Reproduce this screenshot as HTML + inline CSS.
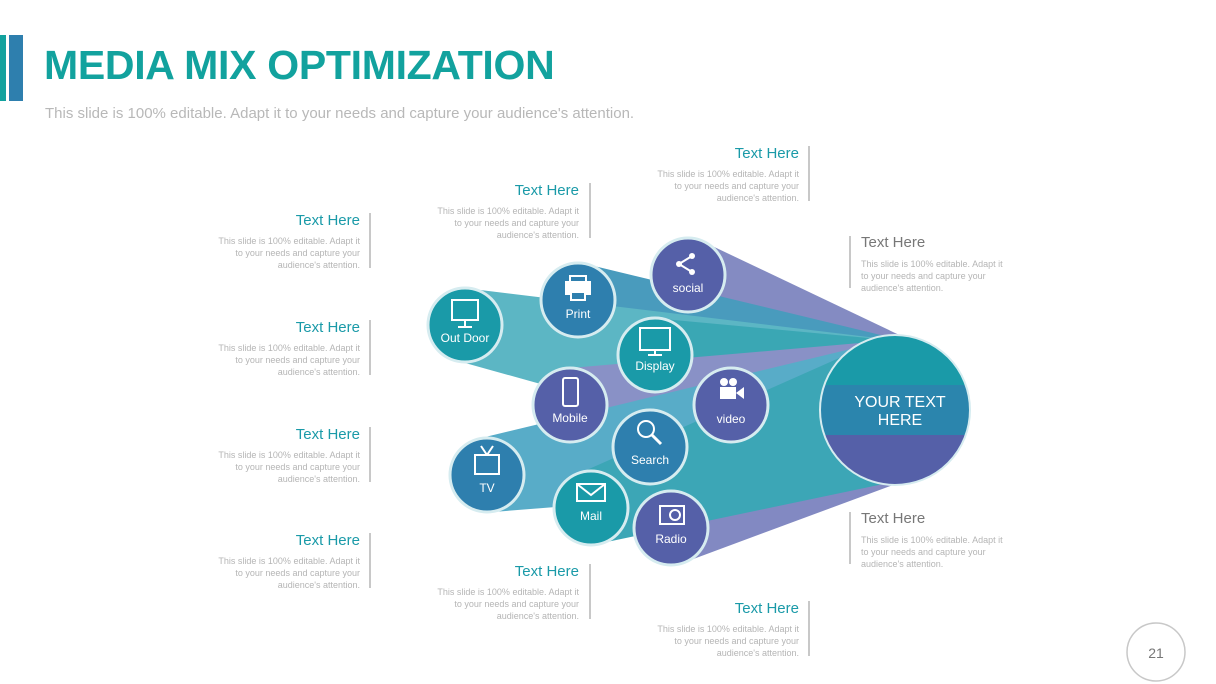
<!DOCTYPE html>
<html><head><meta charset="utf-8"><style>
body{margin:0;width:1216px;height:684px;background:#fff;overflow:hidden;font-family:"Liberation Sans",sans-serif;position:relative}
.t{position:absolute;font-size:15px;color:#1a9aa8;white-space:nowrap}
.b{position:absolute;font-size:9px;line-height:12px;color:#b5b5b5;width:150px}
.r{text-align:right}
.vl{position:absolute;width:2px;background:#c8c8c8}
</style></head><body>
<div style="position:absolute;left:0;top:35px;width:6px;height:66px;background:#12a29e"></div>
<div style="position:absolute;left:9px;top:35px;width:14px;height:66px;background:#2e7fae"></div>
<div style="position:absolute;left:44px;top:42px;font-size:41px;font-weight:bold;color:#12a29e;letter-spacing:-0.3px">MEDIA MIX OPTIMIZATION</div>
<div style="position:absolute;left:45px;top:105px;font-size:15px;color:#b8b8b8">This slide is 100% editable. Adapt it to your needs and capture your audience's attention.</div>

<svg width="1216" height="684" style="position:absolute;left:0;top:0">
<g opacity="0.92">
<polygon points="708,244 933,351 857,469 668,306" fill="#7a82bd"/>
<polygon points="590,265 918,344 872,476 566,335" fill="#3a93b8"/>
<polygon points="472,289 910,342 882,479 458,361" fill="#4fb0c0"/>
<polygon points="663,319 911,342 879,478 647,391" fill="#2aa0ae"/>
<polygon points="731,368 895,340 895,480 731,442" fill="#6a74b8"/>
<polygon points="570,368 895,340 895,480 570,442" fill="#8088c2"/>
<polygon points="645,410 885,341 905,479 656,484" fill="#3c8fbf"/>
<polygon points="481,438 884,341 906,479 493,512" fill="#4aa6c4"/>
<polygon points="654,495 862,348 928,472 688,561" fill="#7880bd"/>
<polygon points="580,473 873,343 917,477 602,543" fill="#2c9fb0"/>
</g>
<g stroke="#d6ecf0" stroke-width="3">
<circle cx="688" cy="275" r="37" fill="#5560a8"/>
<circle cx="578" cy="300" r="37" fill="#2e7fae"/>
<circle cx="465" cy="325" r="37" fill="#1a9aa8"/>
<circle cx="655" cy="355" r="37" fill="#1a9aa8"/>
<circle cx="731" cy="405" r="37" fill="#5560a8"/>
<circle cx="570" cy="405" r="37" fill="#5560a8"/>
<circle cx="650" cy="447" r="37" fill="#2e7fae"/>
<circle cx="487" cy="475" r="37" fill="#2e7fae"/>
<circle cx="671" cy="528" r="37" fill="#5560a8"/>
<circle cx="591" cy="508" r="37" fill="#1a9aa8"/>
</g>
<defs><clipPath id="cc"><circle cx="895" cy="410" r="75"/></clipPath></defs>
<g clip-path="url(#cc)">
<rect x="820" y="335" width="150" height="50" fill="#1a9aa8"/>
<rect x="820" y="385" width="150" height="50" fill="#2b85ad"/>
<rect x="820" y="435" width="150" height="50" fill="#5560a8"/>
</g>
<circle cx="895" cy="410" r="75" fill="none" stroke="#d6ecf0" stroke-width="2"/>
<g fill="none" stroke="#fff" stroke-width="2">
<rect x="452" y="300" width="26" height="20"/><line x1="465" y1="320" x2="465" y2="326"/><line x1="458" y1="327" x2="472" y2="327"/>
<rect x="566" y="282" width="24" height="12" fill="#fff"/><rect x="570" y="276" width="16" height="6"/><rect x="571" y="292" width="14" height="8" fill="#2e7fae"/>
<rect x="640" y="328" width="30" height="22"/><line x1="655" y1="350" x2="655" y2="354"/><line x1="648" y1="355" x2="662" y2="355"/>
<line x1="679" y1="264" x2="692" y2="256"/><line x1="679" y1="264" x2="692" y2="272"/>
<rect x="563" y="378" width="15" height="28" rx="2"/>
<circle cx="646" cy="429" r="8"/><line x1="652" y1="435" x2="661" y2="444" stroke-width="3"/>
<rect x="475" y="455" width="24" height="19"/><line x1="481" y1="446" x2="487" y2="455"/><line x1="493" y1="446" x2="487" y2="455"/>
<rect x="577" y="484" width="28" height="17"/><polyline points="577,484 591,495 605,484"/>
<rect x="660" y="506" width="24" height="18"/>
</g>
<g fill="#fff"><circle cx="679" cy="264" r="3"/><circle cx="692" cy="256" r="3"/><circle cx="692" cy="272" r="3"/>
<rect x="720" y="387" width="16" height="12"/><polygon points="736,393 744,387 744,399"/><circle cx="724" cy="382" r="4"/><circle cx="733" cy="382" r="4"/></g>
<circle cx="675" cy="515" r="5" fill="none" stroke="#fff" stroke-width="2"/>
<g fill="#fff" font-family="Liberation Sans, sans-serif" font-size="12" text-anchor="middle">
<text x="688" y="292">social</text><text x="578" y="318">Print</text><text x="465" y="342">Out Door</text>
<text x="655" y="370">Display</text><text x="731" y="423">video</text><text x="570" y="422">Mobile</text>
<text x="650" y="464">Search</text><text x="487" y="492">TV</text><text x="591" y="520">Mail</text><text x="671" y="543">Radio</text>
<text x="900" y="407" font-size="16">YOUR TEXT</text><text x="900" y="425" font-size="16">HERE</text>
</g>
<circle cx="1156" cy="652" r="29" fill="none" stroke="#c8c8c8" stroke-width="1.5"/>
<text x="1156" y="658" font-family="Liberation Sans, sans-serif" font-size="14" fill="#777" text-anchor="middle">21</text>
</svg>

<div class="t r" style="left:200px;width:160px;top:212px">Text Here</div><div class="b r" style="left:210px;top:235px">This slide is 100% editable. Adapt it to your needs and capture your audience's attention.</div><div class="vl" style="left:369px;top:213px;height:55px"></div>
<div class="t r" style="left:200px;width:160px;top:319px">Text Here</div><div class="b r" style="left:210px;top:342px">This slide is 100% editable. Adapt it to your needs and capture your audience's attention.</div><div class="vl" style="left:369px;top:320px;height:55px"></div>
<div class="t r" style="left:200px;width:160px;top:426px">Text Here</div><div class="b r" style="left:210px;top:449px">This slide is 100% editable. Adapt it to your needs and capture your audience's attention.</div><div class="vl" style="left:369px;top:427px;height:55px"></div>
<div class="t r" style="left:200px;width:160px;top:532px">Text Here</div><div class="b r" style="left:210px;top:555px">This slide is 100% editable. Adapt it to your needs and capture your audience's attention.</div><div class="vl" style="left:369px;top:533px;height:55px"></div>
<div class="t r" style="left:419px;width:160px;top:182px">Text Here</div><div class="b r" style="left:429px;top:205px">This slide is 100% editable. Adapt it to your needs and capture your audience's attention.</div><div class="vl" style="left:589px;top:183px;height:55px"></div>
<div class="t r" style="left:419px;width:160px;top:563px">Text Here</div><div class="b r" style="left:429px;top:586px">This slide is 100% editable. Adapt it to your needs and capture your audience's attention.</div><div class="vl" style="left:589px;top:564px;height:55px"></div>
<div class="t r" style="left:639px;width:160px;top:145px">Text Here</div><div class="b r" style="left:649px;top:168px">This slide is 100% editable. Adapt it to your needs and capture your audience's attention.</div><div class="vl" style="left:808px;top:146px;height:55px"></div>
<div class="t r" style="left:639px;width:160px;top:600px">Text Here</div><div class="b r" style="left:649px;top:623px">This slide is 100% editable. Adapt it to your needs and capture your audience's attention.</div><div class="vl" style="left:808px;top:601px;height:55px"></div>
<div class="t" style="left:861px;top:234px;color:#777">Text Here</div><div class="b" style="left:861px;top:258px">This slide is 100% editable. Adapt it to your needs and capture your audience's attention.</div><div class="vl" style="left:849px;top:236px;height:52px"></div>
<div class="t" style="left:861px;top:510px;color:#777">Text Here</div><div class="b" style="left:861px;top:534px">This slide is 100% editable. Adapt it to your needs and capture your audience's attention.</div><div class="vl" style="left:849px;top:512px;height:52px"></div>
</body></html>
